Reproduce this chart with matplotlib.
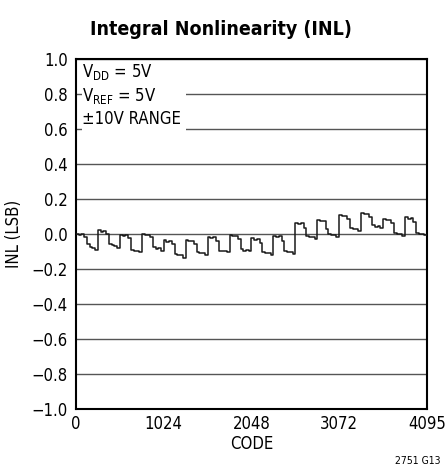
import numpy as np
import matplotlib
matplotlib.use("Agg")
import matplotlib.pyplot as plt
from matplotlib.patches import Rectangle
from matplotlib import font_manager as fm

# ---- data ----
code_step = 32
inl_values = [
    0.000, -0.005, 0.000, -0.020, -0.060, -0.075, -0.080, -0.090,
    0.020, 0.012, 0.015, 0.000, -0.060, -0.065, -0.070, -0.078,
    -0.005, -0.012, -0.008, -0.025, -0.090, -0.095, -0.100, -0.105,
    0.000, -0.008, -0.004, -0.020, -0.075, -0.085, -0.082, -0.095,
    -0.035, -0.045, -0.040, -0.060, -0.115, -0.122, -0.120, -0.135,
    -0.034, -0.042, -0.038, -0.055, -0.105, -0.110, -0.108, -0.118,
    -0.015, -0.022, -0.018, -0.040, -0.095, -0.100, -0.097, -0.105,
    -0.006, -0.014, -0.010, -0.030, -0.088, -0.095, -0.092, -0.100,
    -0.025, -0.032, -0.028, -0.050, -0.105, -0.110, -0.108, -0.120,
    -0.011, -0.018, -0.014, -0.040, -0.100, -0.105, -0.102, -0.115,
    0.065, 0.058, 0.062, 0.035, -0.010, -0.018, -0.015, -0.030,
    0.080, 0.072, 0.076, 0.030, 0.000, -0.008, -0.005, -0.015,
    0.110, 0.102, 0.105, 0.085, 0.035, 0.028, 0.030, 0.018,
    0.120, 0.112, 0.116, 0.095, 0.050, 0.042, 0.045, 0.032,
    0.085, 0.078, 0.080, 0.060, 0.005, -0.002, 0.000, -0.010,
    0.095, 0.088, 0.090, 0.070, 0.005, -0.002, 0.000, -0.005,
]
x_ticks = [0, 1024, 2048, 3072, 4095]
y_ticks = [-1.0, -0.8, -0.6, -0.4, -0.2, 0.0, 0.2, 0.4, 0.6, 0.8, 1.0]
title = "Integral Nonlinearity (INL)"
x_label = "CODE"
y_label = "INL (LSB)"
conditions = [r"V$_{\mathregular{DD}}$ = 5V", r"V$_{\mathregular{REF}}$ = 5V", "±10V RANGE"]
fig_code = "2751 G13"

# look for a condensed sans face
cond = None
for f in fm.fontManager.ttflist:
    if "Condensed" in f.fname and "DejaVuSans" in f.fname.replace(" ", "") and "Bold" not in f.fname and "Oblique" not in f.fname:
        cond = f.name
        break
if cond is not None:
    plt.rcParams["font.family"] = ["DejaVu Sans"]
    plt.rcParams["font.stretch"] = "condensed"
    base = 12
else:
    plt.rcParams["font.family"] = ["Liberation Sans", "DejaVu Sans"]
    base = 12.5
plt.rcParams["mathtext.fontset"] = "custom"
plt.rcParams["mathtext.rm"] = plt.rcParams["font.family"][0] + ":stretch=condensed"
plt.rcParams["axes.unicode_minus"] = True

fig = plt.figure(figsize=(4.47, 4.73), dpi=100)
ax = fig.add_axes([0.170, 0.1353, 0.785, 0.740])

codes = np.arange(len(inl_values)) * code_step
xs = np.append(codes, 4095)
ys = np.append(inl_values, inl_values[-1])
ax.plot(xs, ys, drawstyle="steps-post", color="#1a1a1a", lw=1.1, zorder=3)

ax.set_xlim(0, 4095)
ax.set_ylim(-1.0, 1.0)
ax.set_xticks(x_ticks)
ax.set_yticks(y_ticks)
ax.set_yticklabels([f"{v:.1f}".replace("-", "\u2212") for v in y_ticks])
ax.tick_params(axis="x", length=0, labelsize=base, pad=4)
ax.tick_params(axis="y", length=0, labelsize=base, pad=6)
ax.yaxis.grid(True, color="#555555", lw=1.0, zorder=1)
ax.set_axisbelow(True)
for s in ax.spines.values():
    s.set_linewidth(1.5)
    s.set_color("black")

ax.set_xlabel(x_label, fontsize=base, labelpad=2)
ax.set_ylabel(y_label, fontsize=base, labelpad=6)
fig.text(0.495, 0.937, title, ha="center", va="center", fontsize=14, fontweight="bold")
fig.text(0.985, 0.015, fig_code, ha="right", va="bottom", fontsize=7.5)

# white panel behind the condition text
ax.add_patch(Rectangle((70, 0.53), 1213, 0.46, facecolor="white", edgecolor="none", zorder=2))
for i, t in enumerate(conditions):
    ax.text(75, 0.985 - i * 0.137, t, ha="left", va="top", fontsize=base, zorder=4)

fig.savefig("out.png", dpi=100)
